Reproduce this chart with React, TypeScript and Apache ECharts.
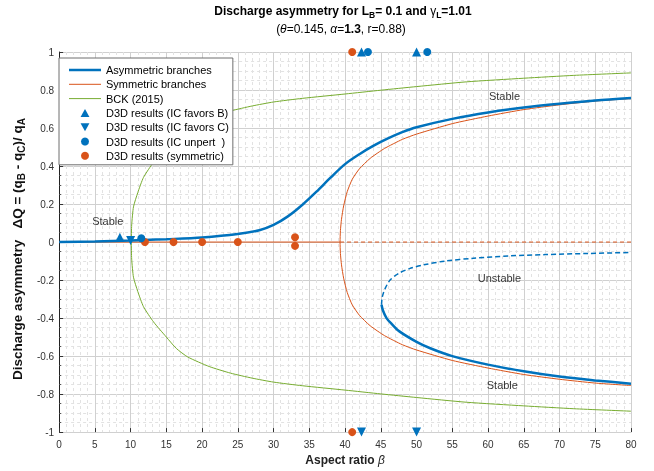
import React, { useEffect, useRef } from 'react';
import * as echarts from 'echarts';

const FONT = '"Liberation Sans", Arial, Helvetica, sans-serif';
const BLUE = '#0072BD';
const ORANGE = '#D95319';
const GREEN = '#77AC30';

// Asymmetric branches (upper stable)
const asymUpperX = [0, 5, 10, 12, 15, 20, 25, 28, 30, 32, 34, 36, 38, 40, 42, 44, 46, 48, 50, 55, 60, 65, 70, 75, 80];
const asymUpperY = [0, 0.003, 0.008, 0.011, 0.015, 0.024, 0.042, 0.062, 0.09, 0.135, 0.195, 0.265, 0.34, 0.41, 0.462, 0.507, 0.545, 0.578, 0.604, 0.648, 0.682, 0.708, 0.728, 0.745, 0.758];
// Asymmetric branches (lower stable)
const asymLowerX = [45.1, 45.3, 45.8, 46.5, 47.6, 50, 52, 55, 60, 65, 70, 75, 80];
const asymLowerY = [-0.33, -0.36, -0.4, -0.43, -0.47, -0.525, -0.56, -0.6, -0.645, -0.68, -0.708, -0.728, -0.745];
// Asymmetric branches (unstable)
const unstableX = [45.1, 45.2, 45.6, 46.3, 47.5, 49, 51, 54, 58, 63, 68, 74, 80];
const unstableY = [-0.33, -0.29, -0.245, -0.2, -0.165, -0.14, -0.12, -0.1, -0.085, -0.073, -0.066, -0.06, -0.055];
// Symmetric branches
const symZeroSolidX = [0, 39.3];
const symZeroDashedX = [39.3, 80];
const symX = [39.3, 39.35, 39.5, 39.8, 40.3, 41, 42, 43.5, 45.5, 48, 50, 55, 60, 65, 70, 75, 80];
const symY = [0, 0.06, 0.12, 0.19, 0.265, 0.33, 0.385, 0.44, 0.492, 0.54, 0.568, 0.623, 0.663, 0.697, 0.722, 0.742, 0.755];
// BCK (2015)
const bckX = [10.1, 10.15, 10.4, 11, 11.8, 13.2, 15, 16.4, 18, 21, 24, 27, 30, 34, 40, 45, 50, 57, 65, 72, 80];
const bckY = [0, 0.09, 0.185, 0.26, 0.34, 0.42, 0.5, 0.56, 0.605, 0.655, 0.69, 0.716, 0.737, 0.756, 0.779, 0.799, 0.818, 0.843, 0.862, 0.877, 0.89];
// D3D results
const favorsBX = [8.5, 42.3, 50];
const favorsBY = [0.025, 1, 1];
const favorsCX = [10, 42.3, 50];
const favorsCY = [0.008, -1, -1];
const unpertX = [11.5, 43.2, 51.5];
const unpertY = [0.02, 1, 1];
const symResX = [12, 16, 20, 25, 33, 33, 41, 41];
const symResY = [0, 0, 0, 0, 0.025, -0.02, 1, -1];
// Annotations
const noteX = [6.8, 62.3, 61.6, 62.0];
const noteY = [0.11, 0.77, -0.19, -0.75];
const noteText = ['Stable', 'Stable', 'Unstable', 'Stable'];

const xTicks = { min: 0, max: 80, interval: 5 };
const yTicks = { min: -1, max: 1, interval: 0.2 };

const zip = (xs: number[], ys: number[]) => xs.map((x, i) => [x, ys[i]]);
const loop = (xs: number[], ys: number[]) => [
  ...xs.map((x, i) => [x, -ys[i]]).reverse(),
  ...xs.map((x, i) => [x, ys[i]]).slice(1),
];

const UP_TRI = 'path://M5,0L10,9L0,9Z';
const DOWN_TRI = 'path://M0,0L10,0L5,9Z';
const THICK_LINE = 'path://M0,0H32V2.5H0Z';
const THIN_LINE = 'path://M0,0H32V1H0Z';

export default function App() {
  const ref = useRef<HTMLDivElement>(null);
  useEffect(() => {
    const chart = echarts.init(ref.current!, null, { renderer: 'svg' });
    const sub = { fontSize: 8.5, lineHeight: 8, verticalAlign: 'bottom' as const, fontWeight: 'bold' as const, fontFamily: FONT, color: '#111' };
    const subY = { ...sub, fontSize: 10 };
    chart.setOption({
      animation: false,
      textStyle: { fontFamily: FONT },
      grid: { left: 59, right: 23, top: 52, bottom: 38, containLabel: false },
      graphic: [
        {
          type: 'text',
          x: 343,
          y: 2,
          style: {
            text: 'Discharge asymmetry for L{sub|B}= 0.1 and {g|γ}{sub|L}=1.01',
            align: 'center',
            verticalAlign: 'top',
            font: `bold 12px ${FONT}`,
            fill: '#000',
            lineHeight: 17,
            rich: {
              sub,
              g: { fontSize: 12, lineHeight: 17, fontWeight: 'normal', fontFamily: FONT, color: '#000' },
            },
          },
        },
        {
          type: 'text',
          x: 341,
          y: 23,
          style: {
            text: '({i|θ}=0.145, {i|α}={b|1.3}, r=0.88)',
            align: 'center',
            verticalAlign: 'top',
            font: `12px ${FONT}`,
            fill: '#000',
            rich: {
              i: { fontStyle: 'italic', fontSize: 12, fontFamily: FONT, color: '#000' },
              b: { fontWeight: 'bold', fontSize: 12, fontFamily: FONT, color: '#000' },
            },
          },
        },
      ],
      legend: {
        orient: 'vertical',
        left: 59,
        top: 58,
        padding: [6, 4, 3, 10],
        itemWidth: 32,
        itemHeight: 8,
        itemGap: 2.3,
        backgroundColor: '#fff',
        borderColor: '#6e6e6e',
        borderWidth: 1,
        borderRadius: 0,
        selectedMode: false,
        textStyle: { fontSize: 11, lineHeight: 12, color: '#000', fontFamily: FONT },
        data: [
          { name: 'Asymmetric branches', icon: THICK_LINE },
          { name: 'Symmetric branches', icon: THIN_LINE },
          { name: 'BCK (2015)', icon: THIN_LINE },
          { name: 'D3D results (IC favors B)' },
          { name: 'D3D results (IC favors C)' },
          { name: 'D3D results (IC unpert  )' },
          { name: 'D3D results (symmetric)' },
        ],
      },
      xAxis: {
        type: 'value',
        ...xTicks,
        name: 'Aspect ratio {i|β}',
        nameLocation: 'middle',
        nameGap: 18,
        nameTextStyle: {
          fontSize: 12,
          fontWeight: 'bold',
          color: '#222',
          fontFamily: FONT,
          rich: { i: { fontStyle: 'italic', fontWeight: 'normal', fontSize: 12, fontFamily: FONT, color: '#222' } },
        },
        axisLine: { show: false, onZero: false },
        axisTick: { show: true, inside: true, length: 4, lineStyle: { color: '#333' } },
        axisLabel: { fontSize: 10, color: '#333', margin: 7 },
        splitLine: { show: true, lineStyle: { color: '#d0d0d0', width: 1 } },
        minorTick: { show: false, splitNumber: 5 },
        minorSplitLine: { show: true, lineStyle: { color: '#e2e2e2', width: 1, type: [3, 3] } },
      },
      yAxis: {
        type: 'value',
        ...yTicks,
        name: 'Discharge asymmetry   ΔQ = (q{sub|B} - q{sub|C})/ q{sub|A}',
        nameLocation: 'middle',
        nameGap: 31,
        nameTextStyle: {
          fontSize: 13.5,
          fontWeight: 'bold',
          color: '#111',
          fontFamily: FONT,
          lineHeight: 18,
          padding: [0, 14, 0, 0],
          rich: { sub: subY },
        },
        axisLine: { show: true, onZero: false, lineStyle: { color: '#222', width: 1 } },
        axisTick: { show: true, inside: true, length: 4, lineStyle: { color: '#333' } },
        minorTick: { show: true, splitNumber: 4, length: 2, lineStyle: { color: '#555' } },
        axisLabel: {
          fontSize: 10,
          color: '#333',
          margin: 5,
          formatter: (v: number) => String(Math.round(v * 10) / 10),
        },
        splitLine: { show: true, lineStyle: { color: '#d0d0d0', width: 1 } },
        minorSplitLine: { show: true, lineStyle: { color: '#e2e2e2', width: 1, type: [3, 3] } },
      },
      series: [
        {
          name: 'Asymmetric branches',
          type: 'line',
          data: zip(asymUpperX, asymUpperY),
          symbol: 'none',
          smooth: 0.3,
          lineStyle: { color: BLUE, width: 2.5 },
          itemStyle: { color: BLUE },
          z: 4,
        },
        {
          name: 'Asymmetric branches',
          type: 'line',
          data: zip(asymLowerX, asymLowerY),
          symbol: 'none',
          smooth: 0.3,
          lineStyle: { color: BLUE, width: 2.5 },
          itemStyle: { color: BLUE },
          z: 4,
        },
        {
          name: 'Asymmetric branches',
          type: 'line',
          data: zip(unstableX, unstableY),
          symbol: 'none',
          smooth: 0.3,
          lineStyle: { color: BLUE, width: 1.5, type: [5, 3] },
          itemStyle: { color: BLUE },
          z: 4,
        },
        {
          name: 'Symmetric branches',
          type: 'line',
          data: symZeroSolidX.map((x) => [x, 0]),
          symbol: 'none',
          lineStyle: { color: ORANGE, width: 1 },
          itemStyle: { color: ORANGE },
          z: 3,
        },
        {
          name: 'Symmetric branches',
          type: 'line',
          data: symZeroDashedX.map((x) => [x, 0]),
          symbol: 'none',
          lineStyle: { color: ORANGE, width: 1, type: [4, 3] },
          itemStyle: { color: ORANGE },
          z: 3,
        },
        {
          name: 'Symmetric branches',
          type: 'line',
          data: loop(symX, symY),
          symbol: 'none',
          smooth: 0.2,
          lineStyle: { color: ORANGE, width: 1 },
          itemStyle: { color: ORANGE },
          z: 3,
        },
        {
          name: 'BCK (2015)',
          type: 'line',
          data: loop(bckX, bckY),
          symbol: 'none',
          smooth: 0.2,
          lineStyle: { color: GREEN, width: 1 },
          itemStyle: { color: GREEN },
          z: 3,
        },
        {
          name: 'D3D results (symmetric)',
          type: 'scatter',
          data: zip(symResX, symResY),
          symbol: 'circle',
          symbolSize: 8,
          clip: false,
          itemStyle: { color: ORANGE, opacity: 1 },
          z: 5,
        },
        {
          name: 'D3D results (IC favors B)',
          type: 'scatter',
          data: zip(favorsBX, favorsBY),
          symbol: UP_TRI,
          symbolSize: 9,
          clip: false,
          itemStyle: { color: BLUE, opacity: 1 },
          z: 6,
        },
        {
          name: 'D3D results (IC favors C)',
          type: 'scatter',
          data: zip(favorsCX, favorsCY),
          symbol: DOWN_TRI,
          symbolSize: 9,
          clip: false,
          itemStyle: { color: BLUE, opacity: 1 },
          z: 6,
        },
        {
          name: 'D3D results (IC unpert  )',
          type: 'scatter',
          data: zip(unpertX, unpertY),
          symbol: 'circle',
          symbolSize: 8,
          clip: false,
          itemStyle: { color: BLUE, opacity: 1 },
          z: 6,
        },
        {
          name: 'notes',
          type: 'scatter',
          silent: true,
          data: noteX.map((x, i) => ({ value: [x, noteY[i]], label: { formatter: noteText[i] } })),
          symbolSize: 1,
          itemStyle: { color: 'rgba(0,0,0,0)' },
          label: { show: true, position: 'inside', fontSize: 11, color: '#000', fontFamily: FONT },
          z: 7,
        },
      ],
    });
    return () => chart.dispose();
  }, []);
  return <div ref={ref} style={{ position: 'fixed', left: 0, top: 0, width: 654, height: 471 }} />;
}
